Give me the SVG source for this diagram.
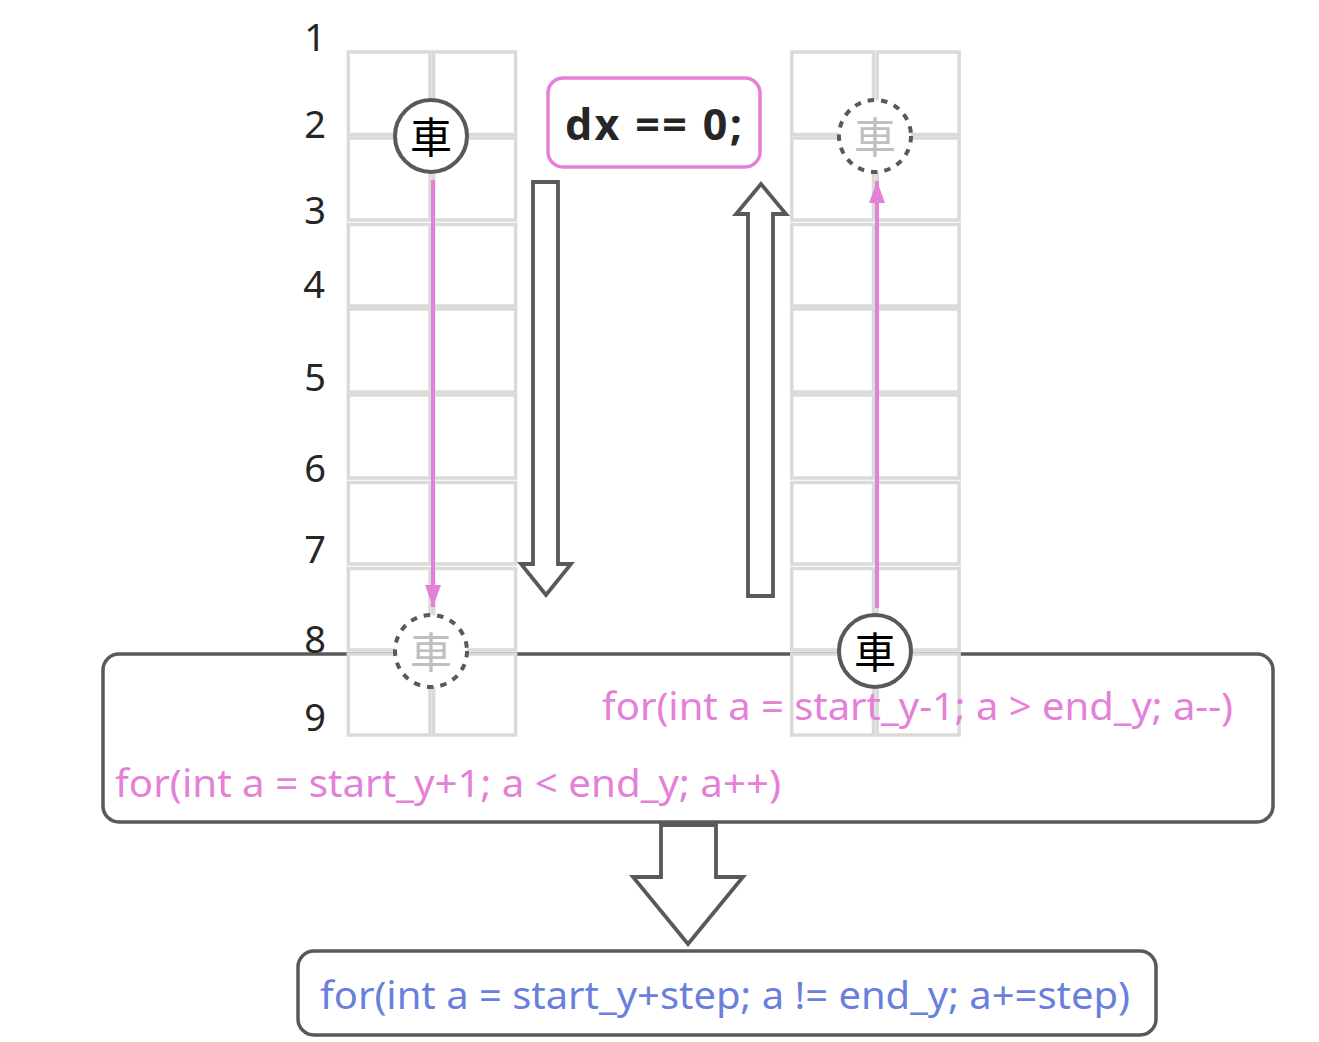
<svg xmlns="http://www.w3.org/2000/svg" width="1319" height="1042" viewBox="0 0 1319 1042">
<defs>
<style>
.cell{fill:#fff;stroke:#d9dbd9;stroke-width:3.500}
.box{fill:#fff;stroke:#595959;stroke-width:3.500}
.block{fill:#fff;stroke:#595959;stroke-width:3.800}
.num{font:38px "Noto Sans","Open Sans",sans-serif;fill:#262626;text-anchor:middle}
.code{font:38.500px "Noto Sans","Open Sans",sans-serif;fill:#e580d8}
.blue{fill:#6a7fdb}
.pink{stroke:#e580d8;stroke-width:4;fill:none}
.car{fill:#fff;stroke:#595959;stroke-width:4}
.ghost{stroke-dasharray:6.500 7}
.cg{font:42px "Noto Sans CJK TC","Noto Sans CJK SC",sans-serif;fill:#000;text-anchor:middle}
.cg2{fill:#bfbfbf}
</style>
<marker id="ah" markerUnits="userSpaceOnUse" markerWidth="22" markerHeight="16" refX="22" refY="8" orient="auto"><path d="M0 0L22 8L0 16Z" fill="#e580d8"/></marker>
<g id="cells">
<rect class="cell" x="348.300" y="52" width="81.700" height="82.500"/><rect class="cell" x="433.700" y="52" width="81.900" height="82.500"/>
<rect class="cell" x="348.300" y="138" width="81.700" height="82"/><rect class="cell" x="433.700" y="138" width="81.900" height="82"/>
<rect class="cell" x="348.300" y="224.500" width="81.700" height="81.500"/><rect class="cell" x="433.700" y="224.500" width="81.900" height="81.500"/>
<rect class="cell" x="348.300" y="309" width="81.700" height="83"/><rect class="cell" x="433.700" y="309" width="81.900" height="83"/>
<rect class="cell" x="348.300" y="395" width="81.700" height="83"/><rect class="cell" x="433.700" y="395" width="81.900" height="83"/>
<rect class="cell" x="348.300" y="482.500" width="81.700" height="81.500"/><rect class="cell" x="433.700" y="482.500" width="81.900" height="81.500"/>
<rect class="cell" x="348.300" y="568.500" width="81.700" height="81.500"/><rect class="cell" x="433.700" y="568.500" width="81.900" height="81.500"/>
<rect class="cell" x="348.300" y="654" width="81.700" height="81"/><rect class="cell" x="433.700" y="654" width="81.900" height="81"/>
</g>
</defs>
<g id="box-merge"><rect class="box" x="103" y="654" width="1170" height="168" rx="16"/></g>
<g id="grid-left"><use href="#cells"/></g>
<g id="grid-right"><use href="#cells" x="443.500"/></g>
<g id="row-labels">
<text class="num" x="315" y="51">1</text>
<text class="num" x="315" y="138">2</text>
<text class="num" x="315" y="224">3</text>
<text class="num" x="314" y="298">4</text>
<text class="num" x="315" y="391">5</text>
<text class="num" x="315" y="482">6</text>
<text class="num" x="315" y="563">7</text>
<text class="num" x="315" y="653">8</text>
<text class="num" x="315" y="731">9</text>
</g>
<g id="connectors">
<path class="pink" d="M433 180V607" marker-end="url(#ah)"/>
<path class="pink" d="M877 608V181" marker-end="url(#ah)"/>
<path id="arrow-down" class="block" d="M533 182H558V564H571L546 595L521 564H533Z"/>
<path id="arrow-up" class="block" d="M748 596H773V214H786L761 184L736 214H748Z"/>
<path id="arrow-big" class="block" d="M661 825H716V877H743L688 944L633 877H661Z"/>
</g>
<g id="car-start-left"><circle class="car" cx="431" cy="136" r="36"/><text class="cg" x="431" y="153">車</text></g>
<g id="car-end-left"><circle class="car ghost" cx="431" cy="651" r="36"/><text class="cg cg2" x="431" y="668">車</text></g>
<g id="car-end-right"><circle class="car ghost" cx="875" cy="136" r="36"/><text class="cg cg2" x="875" y="153">車</text></g>
<g id="car-start-right"><circle class="car" cx="875" cy="651" r="36"/><text class="cg" x="875" y="668">車</text></g>
<g id="condition"><rect x="548" y="78" width="212" height="89" rx="15" fill="#fff" stroke="#e580d8" stroke-width="3.500"/>
<text x="565" y="140" font-family="Noto Sans, Open Sans, sans-serif" font-size="43" font-weight="700" fill="#262626" textLength="177">dx == 0;</text></g>
<g id="code-labels">
<text class="code" x="602" y="720" textLength="631" lengthAdjust="spacingAndGlyphs">for(int a = start_y-1; a &gt; end_y; a--)</text>
<text class="code" x="115" y="797" textLength="666" lengthAdjust="spacingAndGlyphs">for(int a = start_y+1; a &lt; end_y; a++)</text>
</g>
<g id="result"><rect class="box" x="298" y="951" width="858" height="84" rx="16"/>
<text class="code blue" x="320" y="1009" textLength="810" lengthAdjust="spacingAndGlyphs">for(int a = start_y+step; a != end_y; a+=step)</text></g>
</svg>
